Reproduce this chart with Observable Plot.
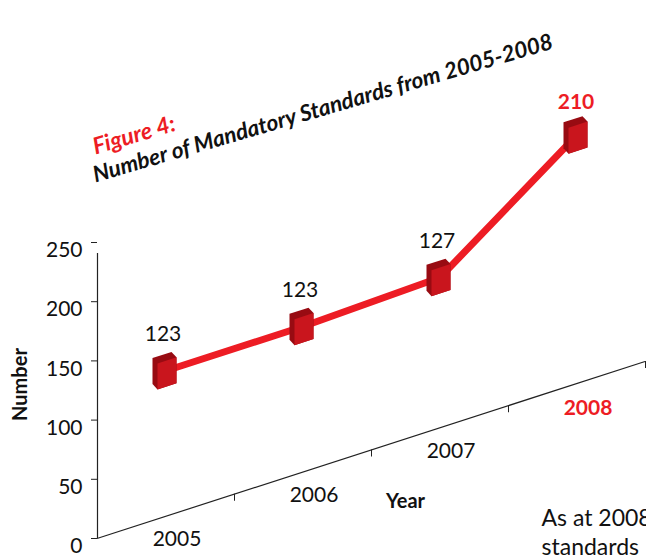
<!DOCTYPE html>
<html>
<head>
<meta charset="utf-8">
<script src="https://cdn.jsdelivr.net/npm/d3@7"></script>
<script src="https://cdn.jsdelivr.net/npm/@observablehq/plot@0.6"></script>
<style>
  html, body { margin: 0; padding: 0; background: #fff; overflow: hidden; }
</style>
</head>
<body>
<div id="chart"></div>
<script>
// ---- data ----
const years = [2005, 2006, 2007, 2008];
const values = [123, 123, 127, 210];
const labels = ["123", "123", "127", "210"];
const yTicks = [0, 50, 100, 150, 200, 250];
const highlightYear = 2008;
const titleLead = "Figure 4:";
const titleText = "Number of Mandatory Standards from 2005-2008";
const xLabel = "Year";
const yLabel = "Number";
const bodyText = "As at 2008, there were\nstandards";

// ---- styles ----
const red = "#ed1c24";
const cubeFrontColor = "#c9151d";
const cubeDarkColor = "#980b12";
const ink = "#111";
const floorAngle = 17.9; // degrees of the oblique floor

const data = years.map((year, i) => ({year, value: values[i], label: labels[i]}));
const bounds = years.map(y => y + 0.5);
const xDomain = [years[0] - 0.5, years[years.length - 1] + 0.5];
const yDomain = [yTicks[0], yTicks[yTicks.length - 1]];

// cube drawn as symbol: darker hull (top + side) and front face
const W = 19, H = 26, FX = -8.5, FY = -10, BX = FX - 5, BY = FY - 7;
const cubeHull = {draw(ctx) {
  ctx.moveTo(BX, BY); ctx.lineTo(BX + W, BY); ctx.lineTo(FX + W, FY);
  ctx.lineTo(FX + W, FY + H); ctx.lineTo(FX, FY + H); ctx.lineTo(BX, BY + H); ctx.closePath();
}};
const cubeFront = {draw(ctx) { ctx.rect(FX, FY, W, H); }};

const SK = {ariaDescription: "skew"};
const SKT = {ariaDescription: "skew-text"};

const plot = Plot.plot({
  width: 646, height: 557,
  marginLeft: 97, marginRight: 1, marginTop: 242, marginBottom: 19,
  style: {fontFamily: "Lato, 'Open Sans', sans-serif", color: ink, background: "white"},
  x: {domain: xDomain, axis: null},
  y: {domain: yDomain},
  marks: [
    // oblique floor line and its ticks
    Plot.ruleY([yDomain[0]], {stroke: "#222", strokeWidth: 1.2, ...SK}),
    Plot.ruleX(bounds, {x: d => d, y1: yDomain[0], y2: yDomain[0], insetBottom: -7, stroke: "#222", strokeWidth: 1, ...SK}),
    // series
    Plot.line(data, {x: "year", y: "value", stroke: red, strokeWidth: 7, ...SK}),
    Plot.dot(data, {x: "year", y: "value", symbol: cubeHull, fill: cubeDarkColor, stroke: "none", ...SK}),
    Plot.dot(data, {x: "year", y: "value", symbol: cubeFront, fill: cubeFrontColor, stroke: "none", ...SK}),
    // value labels
    Plot.text(data.filter(d => d.year !== highlightYear), {x: "year", y: "value", text: "label", dx: -3, dy: -36, fontSize: 21, fill: ink, ...SKT}),
    Plot.text(data.filter(d => d.year === highlightYear), {x: "year", y: "value", text: "label", dx: -1, dy: -33, fontSize: 21, fontWeight: "bold", fill: red, ...SKT}),
    // year labels
    Plot.text(years.filter(y => y !== highlightYear), {x: d => d, frameAnchor: "bottom", text: d => String(d), dx: 11, dy: 30, fontSize: 21, fill: ink, ...SKT}),
    Plot.text([highlightYear], {x: d => d, frameAnchor: "bottom", text: d => String(d), dx: 11, dy: 31, fontSize: 21, fontWeight: "bold", fill: red, ...SKT}),
    // y axis
    Plot.ruleX([xDomain[0]], {y1: yDomain[0], y2: yDomain[1], insetBottom: -11, stroke: "#222", strokeWidth: 1.2}),
    Plot.axisY(yTicks, {tickSize: 6, tickFormat: () => "", label: null, stroke: "#222"}),
    Plot.text(yTicks, {y: d => d, frameAnchor: "left", text: d => String(d), textAnchor: "end", dx: -15, dy: 8, fontSize: 21, fill: ink}),
    Plot.text([yLabel], {frameAnchor: "left", textAnchor: "middle", dx: -77, dy: -6, rotate: -90, fontWeight: "bold", fontSize: 20, fill: ink}),
    Plot.text([xLabel], {frameAnchor: "bottom-left", textAnchor: "middle", dx: 308, dy: -31, fontWeight: "bold", fontSize: 20, fill: ink}),
    // title
    Plot.text([titleLead], {frameAnchor: "top-left", dx: -2, dy: -88, rotate: -16.5, textAnchor: "start", lineAnchor: "bottom", fontStyle: "italic", fontWeight: "bold", fontSize: 23, fill: red}),
    Plot.text([titleText], {frameAnchor: "top-left", dx: -2, dy: -60, rotate: -16.3, textAnchor: "start", lineAnchor: "bottom", fontStyle: "italic", fontWeight: "bold", fontSize: 22.5, fill: ink}),
    // body text cut by the page edge
    Plot.text([bodyText], {frameAnchor: "bottom-left", dx: 444, dy: -33, textAnchor: "start", lineAnchor: "top", fontSize: 23, lineHeight: 1.25, fill: ink})
  ]
});

// apply the oblique (3D-like) floor: skew the series plane, keep glyphs upright
const xs = plot.scale("x"), ys = plot.scale("y");
const x0 = xs.apply(xDomain[0]), y0 = ys.apply(yDomain[0]);
const skew = `translate(${x0},${y0}) skewY(${-floorAngle}) translate(${-x0},${-y0})`;
plot.querySelectorAll('g[aria-description="skew"], g[aria-description="skew-text"]').forEach(g => {
  const t = g.getAttribute("transform") || "";
  g.setAttribute("transform", (t + " " + skew).trim());
});
plot.querySelectorAll('g[aria-description="skew-text"] text').forEach(el => {
  const t = el.getAttribute("transform");
  if (t && t.trim().startsWith("translate")) {
    el.setAttribute("transform", t + ` skewY(${floorAngle})`);
  } else {
    const x = +el.getAttribute("x") || 0, y = +el.getAttribute("y") || 0;
    el.setAttribute("transform", `translate(${x},${y}) skewY(${floorAngle}) translate(${-x},${-y})`);
  }
});
plot.querySelectorAll('g[aria-description="skew"] path, g[aria-description="skew"] line').forEach(p => p.setAttribute("vector-effect", "non-scaling-stroke"));

document.getElementById("chart").appendChild(plot);
</script>
</body>
</html>
